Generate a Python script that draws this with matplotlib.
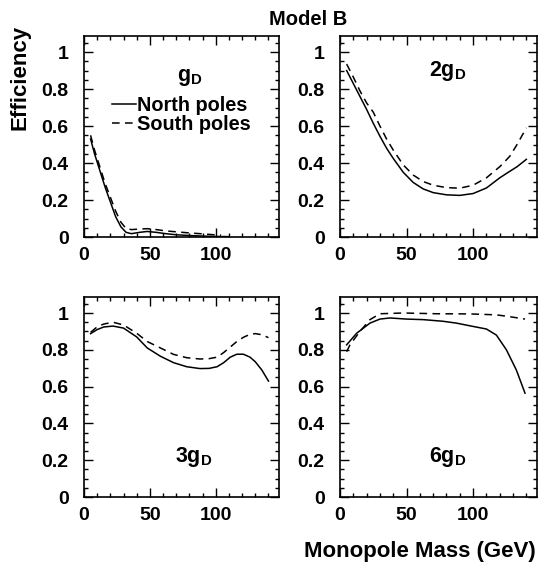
import matplotlib
matplotlib.use("Agg")
import matplotlib.pyplot as plt
from matplotlib.lines import Line2D
from matplotlib.ticker import MultipleLocator

plt.rcParams['font.family'] = ['Liberation Sans', 'DejaVu Sans']
plt.rcParams['font.weight'] = 'bold'
plt.rcParams['mathtext.fontset'] = 'custom'
plt.rcParams['mathtext.rm'] = 'Liberation Sans:bold'
plt.rcParams['mathtext.it'] = 'Liberation Sans:bold'
plt.rcParams['mathtext.bf'] = 'Liberation Sans:bold'

# --- data (mass in GeV, efficiency) ---
# g_D
m1_north = [5, 8, 12, 16, 20, 24, 28, 32, 36, 42, 48, 55, 62, 70, 80, 90, 100, 110]
e1_north = [0.53, 0.45, 0.36, 0.27, 0.19, 0.11, 0.055, 0.025, 0.018, 0.025, 0.03, 0.025,
            0.018, 0.012, 0.008, 0.005, 0.003, 0.002]
m1_south = [5, 8, 12, 16, 20, 24, 28, 32, 36, 42, 48, 55, 62, 70, 80, 90, 97, 104]
e1_south = [0.55, 0.47, 0.38, 0.29, 0.215, 0.14, 0.08, 0.045, 0.04, 0.043, 0.045, 0.04,
            0.033, 0.028, 0.022, 0.017, 0.013, 0.01]
# 2g_D
m2 = [5, 10, 15, 20, 25, 30, 35, 40, 47.5, 55, 62.5, 70, 80, 90, 100, 110, 120, 127.5, 133, 140]
e2_north = [0.90, 0.83, 0.76, 0.69, 0.615, 0.545, 0.48, 0.425, 0.35, 0.295, 0.26, 0.24,
            0.228, 0.225, 0.235, 0.265, 0.32, 0.355, 0.38, 0.42]
e2_south = [0.935, 0.865, 0.79, 0.725, 0.675, 0.6, 0.53, 0.47, 0.39, 0.335, 0.3, 0.28,
            0.267, 0.264, 0.28, 0.32, 0.38, 0.436, 0.5, 0.59]
# 3g_D
m3 = [5, 10, 15, 22, 30, 40, 48, 58, 68, 78, 88, 95, 101, 106, 111, 116, 121, 126, 130, 135, 140]
e3_north = [0.888, 0.91, 0.924, 0.929, 0.918, 0.87, 0.81, 0.765, 0.73, 0.708, 0.698, 0.699,
            0.708, 0.73, 0.76, 0.776, 0.776, 0.76, 0.735, 0.69, 0.63]
e3_south = [0.895, 0.925, 0.94, 0.95, 0.935, 0.89, 0.845, 0.81, 0.775, 0.757, 0.75, 0.752,
            0.76, 0.785, 0.815, 0.845, 0.868, 0.884, 0.888, 0.882, 0.866]
# 6g_D
m4_north = [5, 12.5, 22.5, 30, 37.5, 50, 62.5, 77.5, 87.5, 100, 110, 117.5, 125, 132.5, 139]
e4_north = [0.827, 0.89, 0.945, 0.967, 0.973, 0.967, 0.964, 0.955, 0.945, 0.927, 0.913,
            0.88, 0.8, 0.69, 0.564]
m4_south = [5, 7.5, 15, 22.5, 30, 47.5, 72.5, 97.5, 117.5, 127.5, 139]
e4_south = [0.79, 0.827, 0.9, 0.964, 0.996, 1.0, 0.996, 0.995, 0.99, 0.98, 0.967]

panels = [
    (m1_north, e1_north, m1_south, e1_south, r'$\mathrm{g_D}$', (80, 0.86)),
    (m2, e2_north, m2, e2_south, r'$\mathrm{2g_D}$', (81, 0.90)),
    (m3, e3_north, m3, e3_south, r'$\mathrm{3g_D}$', (83, 0.22)),
    (m4_north, e4_north, m4_south, e4_south, r'$\mathrm{6g_D}$', (81, 0.22)),
]

fig = plt.figure(figsize=(5.38, 5.65), dpi=100)
W, H = 538.0, 565.0
boxes = [(84, 36, 195, 201), (340, 36, 197, 201), (84, 297, 195, 200), (340, 297, 197, 200)]

axes = []
for (l, t, w, h), (xn, yn, xs, ys, lab, pos) in zip(boxes, panels):
    ax = fig.add_axes([l / W, (H - t - h) / H, w / W, h / H])
    ax.plot(xn, yn, color='black', lw=1.1, ls='-')
    ax.plot(xs, ys, color='black', lw=1.1, ls=(0, (5, 3.5)))
    ax.set_xlim(0, 148)
    ax.set_ylim(0, 1.087)
    ax.xaxis.set_major_locator(MultipleLocator(50))
    ax.xaxis.set_minor_locator(MultipleLocator(10))
    ax.yaxis.set_minor_locator(MultipleLocator(0.05))
    ax.set_yticks([0, 0.2, 0.4, 0.6, 0.8, 1.0])
    ax.set_yticklabels(['0', '0.2', '0.4', '0.6', '0.8', '1'])
    ax.tick_params(which='both', direction='in', top=True, right=True, width=1.0)
    ax.tick_params(which='major', length=6.5, labelsize=14)
    ax.tick_params(which='minor', length=3.2)
    ax.tick_params(axis='y', which='major', pad=11)
    ax.tick_params(axis='x', which='major', pad=7.5)
    for sp in ax.spines.values():
        sp.set_linewidth(1.2)
    for tl in ax.get_xticklabels() + ax.get_yticklabels():
        tl.set_fontweight('bold')
    ax.text(pos[0], pos[1], lab, ha='center', va='center', fontsize=15.5)
    axes.append(ax)

handles = [Line2D([], [], color='black', lw=1.1, ls='-'),
           Line2D([], [], color='black', lw=1.1, ls=(0, (5, 3.5)))]
leg = axes[0].legend(handles, ['North poles', 'South poles'], loc='upper left',
                     bbox_to_anchor=(0.145, 0.70), frameon=False, fontsize=14.3,
                     handlelength=1.2, handletextpad=0.05, labelspacing=0.0,
                     borderpad=0, borderaxespad=0)
for t in leg.get_texts():
    t.set_fontweight('bold')

fig.text(308 / W, (H - 25) / H, 'Model B', ha='center', va='baseline',
         fontsize=14.5, fontweight='bold')
fig.text(20 / W, (H - 77.5) / H, 'Efficiency', rotation=90, ha='center', va='center',
         fontsize=16, fontweight='bold')
fig.text(536 / W, (H - 556.7) / H, 'Monopole Mass (GeV)', ha='right', va='baseline',
         fontsize=16, fontweight='bold')

fig.savefig('out.png', dpi=100, facecolor='white')
